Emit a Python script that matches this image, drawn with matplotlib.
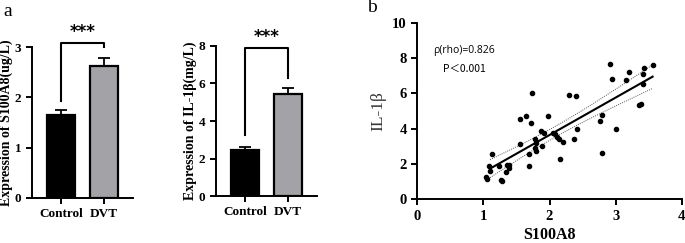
import numpy as np
import matplotlib
matplotlib.use("Agg")
import matplotlib.pyplot as plt

# bar panels
groups = ["Control", "DVT"]
s100a8_mean = [1.65, 2.63]
s100a8_err = [0.09, 0.15]
il1b_mean = [2.44, 5.44]
il1b_err = [0.19, 0.34]
bar_colors = ["#000000", "#a3a3a7"]

# scatter panel (S100A8 vs IL-1beta)
s100a8_pts = [1.04, 1.06, 1.085, 1.10, 1.13, 1.24, 1.27, 1.28, 1.34, 1.36, 1.38, 1.39,
              1.55, 1.56, 1.64, 1.685, 1.685, 1.72, 1.74, 1.785, 1.80, 1.785, 1.80,
              1.875, 1.88, 1.92, 1.98, 2.05, 2.08, 2.12, 2.14, 2.16, 2.20, 2.29, 2.37,
              2.40, 2.42, 2.77, 2.79, 2.79, 2.92, 2.94, 3.00, 3.15, 3.21, 3.35, 3.38,
              3.41, 3.42, 3.43, 3.56]
il1b_pts = [1.28, 1.15, 1.89, 1.62, 2.56, 1.89, 1.08, 1.04, 1.56, 1.95, 1.77, 1.96,
            3.11, 4.53, 4.73, 2.55, 1.90, 4.34, 6.00, 3.40, 3.17, 2.89, 2.73,
            3.87, 3.02, 3.77, 4.70, 3.74, 3.70, 3.54, 3.43, 2.30, 3.23, 5.92, 3.41,
            5.87, 3.98, 4.43, 4.77, 2.64, 7.66, 6.81, 3.96, 6.75, 7.19, 5.34, 5.40,
            7.09, 6.53, 7.45, 7.60]

serif = "Liberation Serif"
W, H = 685, 243
fig = plt.figure(figsize=(W / 100, H / 100), dpi=100)


def box(l, r, t, b):
    return [l / W, 1 - b / H, (r - l) / W, (b - t) / H]


def bar_panel(rect, means, errs, ymax, yticks, ylabel, bracket):
    ax = fig.add_axes(rect)
    x = np.arange(len(groups))
    ax.bar(x, means, width=0.64, color=bar_colors, edgecolor="black", linewidth=1.6, zorder=2)
    ax.errorbar(x, means, yerr=[[0, 0], errs], fmt="none", ecolor="black",
                elinewidth=1.3, capsize=4, capthick=1.3, zorder=1)
    ax.set_xlim(-0.68, 1.67)
    ax.set_ylim(0, ymax)
    ax.set_yticks(yticks)
    ax.set_xticks(x)
    ax.set_xticklabels(groups)
    for s in ["top", "right"]:
        ax.spines[s].set_visible(False)
    for s in ["left", "bottom"]:
        ax.spines[s].set_linewidth(1.4)
    ax.tick_params(width=1.4, length=4, labelsize=9.5)
    for lab in ax.get_xticklabels() + ax.get_yticklabels():
        lab.set_fontfamily(serif)
        lab.set_fontweight("bold")
    ax.set_ylabel(ylabel, fontfamily=serif, fontweight="bold", fontsize=10, labelpad=1)
    top, lb, rb = bracket
    ax.plot([0, 0, 1, 1], [lb, top, top, rb], color="black", lw=1.5, clip_on=False)
    ax.text(0.5, top + ymax * 0.015, "***", ha="center", va="bottom", fontsize=12,
            fontweight="bold", clip_on=False)
    return ax


bar_panel(box(31.7, 133, 47.3, 197.7), s100a8_mean, s100a8_err, 3, [0, 1, 2, 3],
          "Expression of S100A8(ug/L)", (3.09, 1.93, 3.01))
bar_panel(box(216, 316.7, 46, 196), il1b_mean, il1b_err, 8, [0, 2, 4, 6, 8],
          "Expression of IL-1β(mg/L)", (7.88, 3.25, 6.31))

ax = fig.add_axes(box(417.3, 681.7, 22.7, 199.3))
xs = np.array(s100a8_pts)
ys = np.array(il1b_pts)
ax.scatter(xs, ys, s=9, color="black", zorder=3)
slope, icpt = np.polyfit(xs, ys, 1)
xx = np.linspace(xs.min() + 0.06, xs.max(), 100)
yy = slope * xx + icpt
n = len(xs)
resid = ys - (slope * xs + icpt)
se = np.sqrt(np.sum(resid ** 2) / (n - 2))
band = 2.01 * se * np.sqrt(1 / n + (xx - xs.mean()) ** 2 / np.sum((xs - xs.mean()) ** 2))
ax.plot(xx, yy, color="black", lw=1.5, zorder=2)
ax.plot(xx, yy + band, color="#555555", lw=0.7, ls=(0, (1, 1.2)))
ax.plot(xx, yy - band, color="#555555", lw=0.7, ls=(0, (1, 1.2)))
ax.set_xlim(0, 4)
ax.set_ylim(0, 10)
ax.set_xticks([0, 1, 2, 3, 4])
ax.set_yticks([0, 2, 4, 6, 8, 10])
for s in ["top", "right"]:
    ax.spines[s].set_visible(False)
for s in ["left", "bottom"]:
    ax.spines[s].set_linewidth(1.4)
ax.tick_params(width=1.4, length=4, labelsize=10.5)
for lab in ax.get_xticklabels() + ax.get_yticklabels():
    lab.set_fontfamily(serif)
    lab.set_fontweight("bold")
ax.set_xlabel("S100A8", fontfamily=serif, fontweight="bold", fontsize=11.5, labelpad=3)
ax.set_ylabel("IL-1β", fontfamily=serif, fontsize=12.5, color="#333333", labelpad=4)
ax.text(0.71, 8.45, "ρ(rho)=0.826", ha="center", va="center", fontsize=7.5, fontfamily="Open Sans")
ax.text(0.71, 7.38, "P＜0.001", ha="center", va="center", fontsize=7.5,
        fontfamily=["Noto Sans CJK SC", "DejaVu Sans"])

fig.text(8 / W, 1 - 12 / H, "a", fontsize=14, fontfamily=serif, va="center", ha="center")
fig.text(372 / W, 1 - 8 / H, "b", fontsize=14, fontfamily=serif, va="center", ha="center")

fig.savefig("out.png", dpi=100)
